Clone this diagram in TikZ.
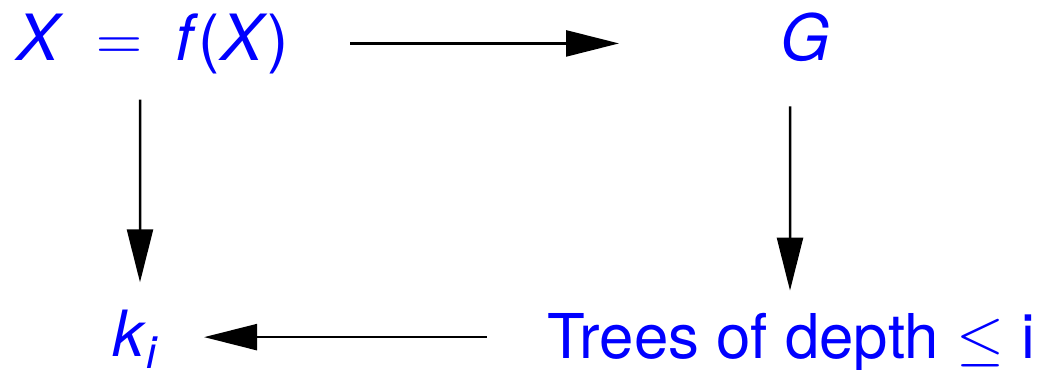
\RequirePackage{fix-cm}
\documentclass[tikz,border=0pt]{standalone}
\usepackage{fontspec}
\setmainfont{TeX Gyre Heros}
\usetikzlibrary{arrows.meta}
\begin{document}
\begin{tikzpicture}[x=1bp,y=-1bp,
  lbl/.style={text=blue, inner sep=0pt, font=\fontsize{64}{70}\selectfont, anchor=base},
  arr/.style={line width=2.5bp, -{Triangle[length=53bp,width=26bp]}}]
\useasboundingbox (0,0) rectangle (1039,369);
\node[lbl] (xf) at (152.5,60) {\textit{X}\hspace{0.52em}$=$\hspace{0.52em}\textit{f}(\textit{X})};
\node[lbl] (G) at (805,60) {\textit{G}};
\node[lbl] (k) at (135,356) {\textit{k}\raisebox{-0.2em}{\fontsize{45}{50}\selectfont\textit{i}}};
\node[lbl, font=\fontsize{62}{68}\selectfont] (trees) at (791.5,358) {Trees of depth $\leq$ i};
\draw[arr, shorten <=61bp, shorten >=161bp] (xf.east) -- (xf.east -| G.west);
\draw[arr] ([xshift=-12.5bp,yshift=-26bp]xf.south) -- ([xshift=5bp,yshift=27bp]k.north);
\draw[arr] ([xshift=-15bp,yshift=-45bp]G.south) -- ([xshift=-1.5bp,yshift=22bp]trees.north);
\draw[arr, shorten <=61bp, shorten >=46bp] ([yshift=5bp]trees.west) -- ([yshift=5bp]trees.west -| k.east);
\end{tikzpicture}
\end{document}
